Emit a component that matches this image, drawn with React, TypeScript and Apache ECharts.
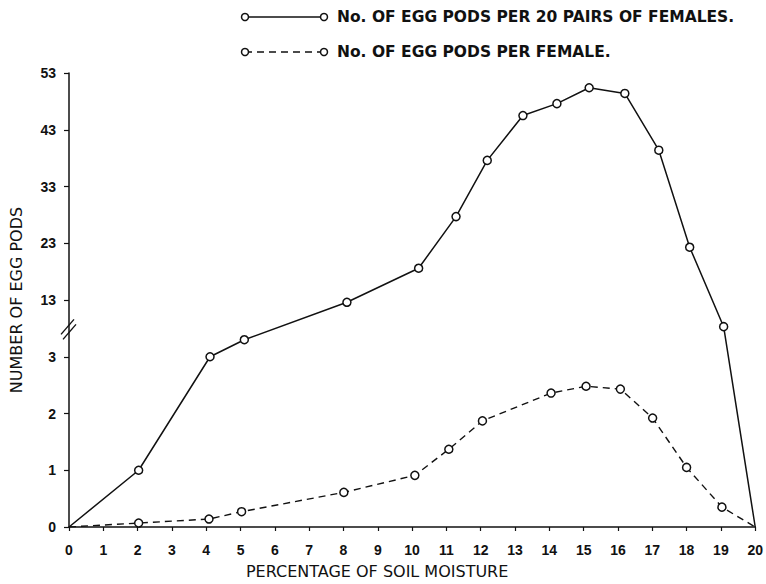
import React, { useEffect, useRef } from "react";
import * as echarts from "echarts";

// Soil moisture (%) and number of egg pods
const pairsX = [0, 2.03, 4.11, 5.11, 8.1, 10.19, 11.28, 12.19, 13.23, 14.22, 15.16, 16.2, 17.19, 18.09, 19.08, 20];
const pairsY = [0, 1, 3, 6, 12.6, 18.6, 27.7, 37.6, 45.5, 47.6, 50.4, 49.4, 39.4, 22.3, 8.3, 0];
const femaleX = [0, 2.03, 4.08, 5.03, 8.01, 10.08, 11.07, 12.05, 14.05, 15.07, 16.07, 17.01, 18, 19.03, 20];
const femaleY = [0, 0.07, 0.14, 0.27, 0.61, 0.91, 1.37, 1.87, 2.36, 2.48, 2.43, 1.92, 1.05, 0.35, 0];
const yTickLabels = ["0", "1", "2", "3", "13", "23", "33", "43", "53"];
const legendPairs = "No. OF EGG PODS PER 20 PAIRS OF FEMALES.";
const legendFemale = "No. OF EGG PODS PER FEMALE.";
const xName = "PERCENTAGE OF SOIL MOISTURE";
const yName = "NUMBER OF EGG PODS";

// broken axis: 0..3 linear, then 3..53 compressed by 10
const toDisplay = (v: number) => (v <= 3 ? v : 3 + (v - 3) / 10);

const INK = "#111";

function buildData(xs: number[], ys: number[]) {
  return xs.map((x, i) => {
    const item: any = { value: [x, toDisplay(ys[i])] };
    if (i === 0 || i === xs.length - 1) item.symbol = "none";
    return item;
  });
}

export default function App() {
  const ref = useRef<HTMLDivElement>(null);
  useEffect(() => {
    if (!ref.current) return;
    const chart = echarts.init(ref.current, null, { renderer: "svg" });
    const tickFont = { fontFamily: "Liberation Sans", fontWeight: "bold" as const, fontSize: 14, color: INK };
    chart.setOption({
      animation: false,
      backgroundColor: "#fff",
      grid: { left: 68, right: 10, top: 73, bottom: 53 },
      xAxis: {
        type: "value",
        min: 0,
        max: 20,
        interval: 1,
        name: xName,
        nameLocation: "middle",
        nameGap: 36,
        nameTextStyle: { fontFamily: "DejaVu Sans", fontSize: 16, color: INK, padding: [0, 70, 0, 0] },
        axisLine: { lineStyle: { color: INK, width: 1.5 } },
        axisTick: { show: true, length: 4, lineStyle: { color: INK, width: 1.2 } },
        axisLabel: { ...tickFont, margin: 16 },
        splitLine: { show: false },
      },
      yAxis: {
        type: "value",
        min: 0,
        max: 8,
        interval: 1,
        name: yName,
        nameLocation: "middle",
        nameGap: 45,
        nameTextStyle: { fontFamily: "DejaVu Sans", fontSize: 16, color: INK },
        axisLine: { show: true, lineStyle: { color: INK, width: 1.5 } },
        axisTick: { show: true, length: 5, lineStyle: { color: INK, width: 1.2 } },
        axisLabel: {
          ...tickFont,
          margin: 13,
          padding: [0, 0, 8, 0],
          formatter: (v: number) => yTickLabels[Math.round(v)] ?? "",
        },
        splitLine: { show: false },
      },
      series: [
        {
          name: legendPairs,
          type: "line",
          data: buildData(pairsX, pairsY),
          symbol: "circle",
          symbolSize: 8,
          lineStyle: { color: INK, width: 1.5, type: "solid" },
          itemStyle: { color: "#fff", borderColor: INK, borderWidth: 1.5 },
          z: 3,
        },
        {
          name: legendFemale,
          type: "line",
          data: buildData(femaleX, femaleY),
          symbol: "circle",
          symbolSize: 8,
          lineStyle: { color: INK, width: 1.4, type: [7, 5] },
          itemStyle: { color: "#fff", borderColor: INK, borderWidth: 1.5 },
          z: 3,
        },
      ],
    });

    const brk = chart.convertToPixel({ gridIndex: 0 }, [0, 3.5]) as number[];
    const bx = brk[0];
    const by = brk[1];
    const circ = (cx: number, cy: number) => ({
      type: "circle",
      shape: { cx, cy, r: 3.5 },
      style: { fill: "#fff", stroke: INK, lineWidth: 1.5 },
      z: 10,
    });
    chart.setOption({
      graphic: [
        { type: "line", shape: { x1: bx - 8, y1: by + 6, x2: bx + 5, y2: by - 9 }, style: { stroke: INK, lineWidth: 1.4 }, z: 10 },
        { type: "line", shape: { x1: bx - 6, y1: by + 11, x2: bx + 7, y2: by - 4 }, style: { stroke: INK, lineWidth: 1.4 }, z: 10 },
        { type: "line", shape: { x1: 245, y1: 17, x2: 324, y2: 17 }, style: { stroke: INK, lineWidth: 1.5 }, z: 9 },
        circ(245, 17),
        circ(324, 17),
        { type: "text", x: 337, y: 17, style: { text: legendPairs, fontFamily: "DejaVu Sans", fontWeight: "bold", fontSize: 15.5, fill: INK, verticalAlign: "middle", align: "left" } },
        { type: "line", shape: { x1: 245, y1: 52, x2: 324, y2: 52 }, style: { stroke: INK, lineWidth: 1.4, lineDash: [7, 5] }, z: 9 },
        circ(245, 52),
        circ(324, 52),
        { type: "text", x: 337, y: 52, style: { text: legendFemale, fontFamily: "DejaVu Sans", fontWeight: "bold", fontSize: 15.5, fill: INK, verticalAlign: "middle", align: "left" } },
      ],
    });

    return () => chart.dispose();
  }, []);
  return <div ref={ref} style={{ position: "fixed", left: 0, top: 0, width: 766, height: 584, background: "#fff" }} />;
}
